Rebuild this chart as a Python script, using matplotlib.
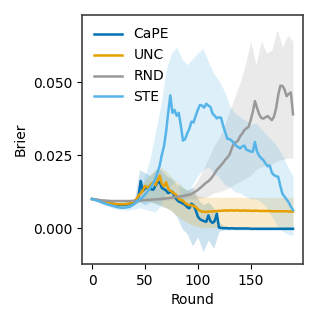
import numpy as np
import matplotlib
matplotlib.use("Agg")
import matplotlib.pyplot as plt
from matplotlib.ticker import FormatStrFormatter

# rounds for the mean curves (every 2 rounds) and for the bands (every 5 rounds)
rounds = np.arange(0, 191, 2)
band_rounds = np.arange(0, 191, 5)

cape_mean = [
    0.0100, 0.0099, 0.0097, 0.0095, 0.0093, 0.0091, 0.0089, 0.0087, 0.0085, 0.0084,
    0.0083, 0.0082, 0.0081, 0.0080, 0.0080, 0.0080, 0.0081, 0.0082, 0.0084, 0.0087,
    0.0090, 0.0096, 0.0110, 0.0162, 0.0128, 0.0135, 0.0140, 0.0142, 0.0133, 0.0132,
    0.0146, 0.0156, 0.0158, 0.0138, 0.0134, 0.0129, 0.0120, 0.0123, 0.0125, 0.0108,
    0.0098, 0.0091, 0.0088, 0.0084, 0.0080, 0.0072, 0.0068, 0.0084, 0.0078, 0.0062,
    0.0040, 0.0031, 0.0027, 0.0024, 0.0022, 0.0044, 0.0024, 0.0018, 0.0025, 0.0050,
    0.0002, 0.0001, 0.0000, 0.0000, 0.0000, -0.0001, 0.0000, -0.0001, -0.0001, -0.0001,
    -0.0001, -0.0001, -0.0001, -0.0001, -0.0001, -0.0002, -0.0002, -0.0002, -0.0002, -0.0002,
    -0.0002, -0.0002, -0.0002, -0.0002, -0.0002, -0.0002, -0.0002, -0.0002, -0.0002, -0.0002,
    -0.0002, -0.0002, -0.0002, -0.0002, -0.0002, -0.0002,
]
unc_mean = [
    0.0100, 0.0099, 0.0097, 0.0095, 0.0093, 0.0091, 0.0089, 0.0087, 0.0086, 0.0085,
    0.0084, 0.0083, 0.0082, 0.0082, 0.0082, 0.0082, 0.0083, 0.0084, 0.0086, 0.0089,
    0.0093, 0.0100, 0.0112, 0.0120, 0.0128, 0.0145, 0.0140, 0.0141, 0.0152, 0.0157,
    0.0147, 0.0165, 0.0180, 0.0152, 0.0143, 0.0158, 0.0135, 0.0128, 0.0124, 0.0118,
    0.0112, 0.0099, 0.0097, 0.0094, 0.0086, 0.0081, 0.0079, 0.0079, 0.0076, 0.0072,
    0.0065, 0.0060, 0.0057, 0.0056, 0.0056, 0.0057, 0.0057, 0.0058, 0.0058, 0.0059,
    0.0059, 0.0060, 0.0060, 0.0061, 0.0060, 0.0061, 0.0061, 0.0060, 0.0061, 0.0061,
    0.0060, 0.0060, 0.0061, 0.0060, 0.0060, 0.0060, 0.0059, 0.0060, 0.0060, 0.0059,
    0.0059, 0.0059, 0.0059, 0.0059, 0.0059, 0.0058, 0.0058, 0.0058, 0.0058, 0.0058,
    0.0058, 0.0058, 0.0058, 0.0057, 0.0057, 0.0057,
]
rnd_mean = [
    0.0100, 0.0099, 0.0098, 0.0097, 0.0096, 0.0095, 0.0095, 0.0094, 0.0094, 0.0093,
    0.0093, 0.0093, 0.0093, 0.0093, 0.0093, 0.0093, 0.0093, 0.0093, 0.0093, 0.0094,
    0.0094, 0.0094, 0.0095, 0.0095, 0.0096, 0.0096, 0.0097, 0.0097, 0.0098, 0.0098,
    0.0099, 0.0099, 0.0100, 0.0101, 0.0101, 0.0102, 0.0103, 0.0104, 0.0105, 0.0106,
    0.0107, 0.0108, 0.0109, 0.0110, 0.0112, 0.0113, 0.0114, 0.0117, 0.0121, 0.0126,
    0.0131, 0.0137, 0.0143, 0.0150, 0.0156, 0.0161, 0.0168, 0.0177, 0.0188, 0.0200,
    0.0207, 0.0216, 0.0224, 0.0235, 0.0242, 0.0252, 0.0272, 0.0290, 0.0294, 0.0300,
    0.0315, 0.0324, 0.0336, 0.0342, 0.0347, 0.0370, 0.0398, 0.0435, 0.0412, 0.0390,
    0.0378, 0.0375, 0.0380, 0.0384, 0.0377, 0.0370, 0.0382, 0.0410, 0.0455, 0.0488,
    0.0487, 0.0475, 0.0452, 0.0460, 0.0465, 0.0390,
]
ste_mean = [
    0.0100, 0.0098, 0.0095, 0.0093, 0.0090, 0.0087, 0.0085, 0.0082, 0.0080, 0.0078,
    0.0076, 0.0074, 0.0072, 0.0071, 0.0070, 0.0070, 0.0071, 0.0072, 0.0074, 0.0078,
    0.0083, 0.0090, 0.0096, 0.0101, 0.0107, 0.0115, 0.0124, 0.0133, 0.0143, 0.0155,
    0.0170, 0.0192, 0.0215, 0.0252, 0.0280, 0.0330, 0.0395, 0.0455, 0.0395, 0.0405,
    0.0385, 0.0395, 0.0350, 0.0300, 0.0305, 0.0325, 0.0340, 0.0365, 0.0362, 0.0385,
    0.0405, 0.0422, 0.0420, 0.0413, 0.0426, 0.0420, 0.0415, 0.0392, 0.0385, 0.0376,
    0.0380, 0.0378, 0.0350, 0.0328, 0.0306, 0.0305, 0.0300, 0.0292, 0.0283, 0.0278,
    0.0273, 0.0280, 0.0283, 0.0268, 0.0266, 0.0262, 0.0262, 0.0295, 0.0262, 0.0248,
    0.0240, 0.0233, 0.0222, 0.0212, 0.0215, 0.0190, 0.0182, 0.0178, 0.0176, 0.0145,
    0.0118, 0.0108, 0.0098, 0.0088, 0.0074, 0.0062,
]

# uncertainty bands (every 5 rounds)
cape_lo = [
    0.0098, 0.0094, 0.0086, 0.0082, 0.0078, 0.0074, 0.0074, 0.0076, 0.0080, 0.0090,
    0.0080, 0.0090, 0.0085, 0.0075, 0.0070, 0.0060, 0.0040, 0.0000, -0.0020, -0.0060,
    -0.0030, -0.0080, -0.0040, -0.0070, -0.0010, -0.0006, -0.0006, -0.0006, -0.0006, -0.0006,
    -0.0006, -0.0006, -0.0006, -0.0006, -0.0006, -0.0006, -0.0006, -0.0006, -0.0006,
]
cape_hi = [
    0.0102, 0.0100, 0.0096, 0.0092, 0.0090, 0.0088, 0.0088, 0.0090, 0.0098, 0.0200,
    0.0190, 0.0180, 0.0200, 0.0200, 0.0180, 0.0170, 0.0150, 0.0140, 0.0130, 0.0140,
    0.0100, 0.0080, 0.0090, 0.0070, 0.0020, 0.0008, 0.0004, 0.0004, 0.0004, 0.0004,
    0.0004, 0.0004, 0.0004, 0.0004, 0.0004, 0.0004, 0.0004, 0.0004, 0.0004,
]
unc_lo = [
    0.0098, 0.0094, 0.0086, 0.0082, 0.0078, 0.0076, 0.0076, 0.0078, 0.0082, 0.0090,
    0.0095, 0.0090, 0.0085, 0.0080, 0.0070, 0.0060, 0.0045, 0.0030, 0.0020, 0.0010,
    0.0005, 0.0003, 0.0003, 0.0003, 0.0003, 0.0003, 0.0003, 0.0003, 0.0003, 0.0003,
    0.0003, 0.0003, 0.0003, 0.0003, 0.0003, 0.0003, 0.0003, 0.0003, 0.0003,
]
unc_hi = [
    0.0102, 0.0100, 0.0096, 0.0092, 0.0090, 0.0088, 0.0088, 0.0090, 0.0095, 0.0125,
    0.0165, 0.0185, 0.0200, 0.0210, 0.0195, 0.0175, 0.0160, 0.0145, 0.0130, 0.0120,
    0.0112, 0.0108, 0.0106, 0.0106, 0.0106, 0.0106, 0.0106, 0.0106, 0.0106, 0.0106,
    0.0106, 0.0106, 0.0106, 0.0106, 0.0106, 0.0106, 0.0106, 0.0105, 0.0105,
]
rnd_lo = [
    0.0097, 0.0096, 0.0094, 0.0092, 0.0090, 0.0089, 0.0089, 0.0089, 0.0090, 0.0091,
    0.0092, 0.0093, 0.0094, 0.0095, 0.0096, 0.0097, 0.0098, 0.0099, 0.0100, 0.0100,
    0.0100, 0.0105, 0.0110, 0.0120, 0.0125, 0.0130, 0.0140, 0.0150, 0.0160, 0.0170,
    0.0180, 0.0200, 0.0210, 0.0215, 0.0220, 0.0230, 0.0235, 0.0240, 0.0240,
]
rnd_hi = [
    0.0103, 0.0101, 0.0099, 0.0098, 0.0097, 0.0097, 0.0097, 0.0097, 0.0098, 0.0099,
    0.0100, 0.0102, 0.0104, 0.0106, 0.0108, 0.0111, 0.0114, 0.0118, 0.0125, 0.0140,
    0.0165, 0.0200, 0.0240, 0.0280, 0.0310, 0.0350, 0.0400, 0.0450, 0.0500, 0.0560,
    0.0640, 0.0560, 0.0640, 0.0600, 0.0610, 0.0680, 0.0620, 0.0660, 0.0640,
]
ste_lo = [
    0.0098, 0.0092, 0.0082, 0.0075, 0.0068, 0.0064, 0.0062, 0.0062, 0.0066, 0.0070,
    0.0065, 0.0060, 0.0055, 0.0080, 0.0120, 0.0150, 0.0160, 0.0100, 0.0110, 0.0150,
    0.0180, 0.0200, 0.0210, 0.0190, 0.0175, 0.0150, 0.0140, 0.0125, 0.0120, 0.0110,
    0.0100, 0.0100, 0.0090, 0.0070, 0.0040, 0.0010, -0.0010, -0.0020, -0.0025,
]
ste_hi = [
    0.0102, 0.0098, 0.0092, 0.0088, 0.0084, 0.0080, 0.0080, 0.0082, 0.0100, 0.0140,
    0.0180, 0.0240, 0.0330, 0.0420, 0.0540, 0.0600, 0.0620, 0.0580, 0.0560, 0.0580,
    0.0600, 0.0615, 0.0570, 0.0530, 0.0505, 0.0470, 0.0420, 0.0395, 0.0380, 0.0370,
    0.0355, 0.0360, 0.0340, 0.0320, 0.0300, 0.0280, 0.0250, 0.0210, 0.0180,
]

series = [
    ("CaPE", "#0072B2", cape_mean, cape_lo, cape_hi),
    ("UNC", "#E69F00", unc_mean, unc_lo, unc_hi),
    ("RND", "#999999", rnd_mean, rnd_lo, rnd_hi),
    ("STE", "#56B4E9", ste_mean, ste_lo, ste_hi),
]

fig = plt.figure(figsize=(3.19, 3.19), dpi=100)
ax = fig.add_axes([0.257, 0.172, 0.693, 0.781])

for name, col, m, lo, hi in series:
    ax.fill_between(band_rounds, lo, hi, color=col, alpha=0.2, linewidth=0)
for name, col, m, lo, hi in series:
    ax.plot(rounds, m, color=col, lw=1.8, label=name)

ax.set_xlim(-9.5, 199.5)
ax.set_ylim(-0.0123, 0.073)
ax.set_xticks([0, 50, 100, 150])
ax.set_yticks([0.0, 0.025, 0.05])
ax.yaxis.set_major_formatter(FormatStrFormatter("%.3f"))
ax.tick_params(labelsize=10)
ax.set_xlabel("Round", fontsize=10)
ax.set_ylabel("Brier", fontsize=10)
for s in ax.spines.values():
    s.set_color("#404040")
    s.set_linewidth(1.2)

ax.legend(loc="upper left", frameon=False, fontsize=10)

fig.savefig("out.png", dpi=100)
